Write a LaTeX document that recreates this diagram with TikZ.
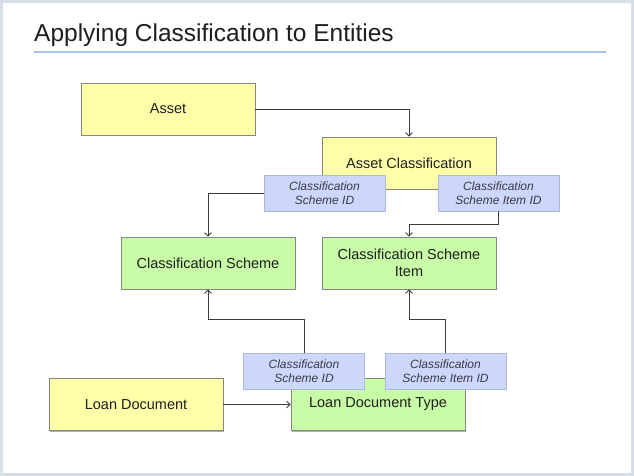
\documentclass[tikz,border=0pt]{standalone}
\usepackage{fontspec}
\setmainfont{Liberation Sans}
\usetikzlibrary{arrows.meta,shadows}
\definecolor{frameC}{HTML}{D7DEE8}
\definecolor{ruleC}{HTML}{A9C4F0}
\definecolor{yel}{HTML}{FFFFAA}
\definecolor{grn}{HTML}{C8FCA6}
\definecolor{blu}{HTML}{CDD6FB}
\definecolor{boxline}{HTML}{858585}
\definecolor{bluline}{HTML}{AEB8DA}
\definecolor{txt}{HTML}{1E1E1E}
\definecolor{lbltxt}{HTML}{3A3A48}
\definecolor{conn}{HTML}{3C3C3C}
\begin{document}
\begin{tikzpicture}[x=1pt,y=-1pt,
  entity/.style={draw=boxline,line width=0.8pt,minimum width=174pt,minimum height=52pt,
    inner sep=2pt,align=center,text=txt,font=\fontsize{14.5}{17.5}\selectfont,
    drop shadow={shadow xshift=1.3pt,shadow yshift=-1.3pt,fill=black,opacity=0.3}},
  yelbox/.style={entity,fill=yel},
  grnbox/.style={entity,fill=grn},
  keybox/.style={draw=bluline,line width=0.8pt,fill=blu,minimum width=121pt,minimum height=36pt,
    inner sep=1pt,align=center,text=lbltxt,font=\fontsize{12}{14}\selectfont\itshape},
  link/.style={draw=conn,line width=0.8pt,-{Straight Barb[length=3.5pt,width=7pt,line width=0.8pt]}}
]
\useasboundingbox (0,0) rectangle (634,476);
\fill[frameC] (0,0) rectangle (634,476);
\fill[white] (3,3) rectangle (631,473);
\node[anchor=base west,inner sep=0pt,font=\fontsize{24.5}{28}\selectfont,text=txt] (title) at (34,42) {Applying Classification to Entities};
\draw[ruleC,line width=2pt] (34,52) -- (606,52);

\node[yelbox] (asset) at (168,109) {Asset};
\node[yelbox] (ac) at (409,163) {Asset Classification};
\node[keybox] (ka) at (324.5,193) {Classification\\Scheme ID};
\node[keybox] (kb) at (498.5,193) {Classification\\Scheme Item ID};
\node[grnbox] (cs) at (208,263) {Classification Scheme};
\node[grnbox] (csi) at (409,263) {Classification Scheme\\Item};
\node[yelbox] (ld) at (136,404.5) {Loan Document};
\node[grnbox] (ldt) at (378,404.5) {Loan Document Type};
\node[keybox] (kc) at (304,371) {Classification\\Scheme ID};
\node[keybox] (kd) at (445.5,371) {Classification\\Scheme Item ID};

\draw[link] (asset.east) -| (ac.north);
\draw[link] (ka.west) -| (cs.north);
\draw[link] (kb.south) -- ++(0,13) -| (csi.north);
\draw[link] (kc.north) -- ++(0,-33) -| (cs.south);
\draw[link] (kd.north) -- ++(0,-33) -| (csi.south);
\draw[link] (ld.east) -- (ldt.west);
\end{tikzpicture}
\end{document}
